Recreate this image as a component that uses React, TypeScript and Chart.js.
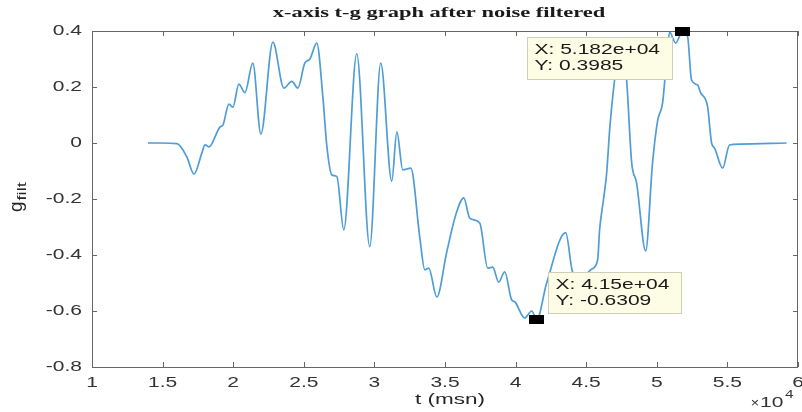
import React, { useEffect, useRef } from "react";
import { Chart, registerables } from "chart.js";

Chart.register(...registerables);

// ---- data ----
const tValues = [
  13960, 14810, 16020, 16720, 17220, 17780, 18000, 18280, 19060, 19270,
  19700, 19980, 20400, 20830, 21390, 21960, 22810, 23590, 24150, 24580,
  25070, 25430, 25920, 26350, 26630, 26990, 27340, 27830, 28750, 29670,
  30450, 31230, 31590, 32010, 32580, 33210, 33570, 33850, 34420, 35120,
  35760, 36330, 36750, 37460, 38030, 38380, 38800, 39230, 39720, 39940,
  40640, 41140, 41500, 42200, 43550, 44040, 44700, 45390, 45810, 45950,
  46230, 46450, 46660, 47010, 47440, 47860, 48220, 48570, 49210, 49700,
  50060, 50410, 50690, 50910, 51330, 51820, 52180, 52460, 52890, 53100,
  53600, 53880, 54090, 54660, 55150, 55860, 59190,
];
const gValues = [
  0, 0, -0.002, -0.05, -0.111, -0.036, -0.007, -0.014, 0.057, 0.064,
  0.139, 0.128, 0.21, 0.18, 0.285, 0.032, 0.36, 0.196, 0.22, 0.196,
  0.285, 0.3, 0.357, 0.165, -0.01, -0.114, -0.12, -0.31, 0.318, -0.37,
  0.285, -0.136, 0.04, -0.096, -0.09, -0.335, -0.453, -0.447, -0.55, -0.39,
  -0.257, -0.196, -0.268, -0.286, -0.447, -0.443, -0.497, -0.46, -0.56, -0.567,
  -0.625, -0.6, -0.6309, -0.5, -0.32, -0.46, -0.48, -0.45, -0.418, -0.31,
  -0.2, -0.107, 0.046, 0.225, 0.37, 0.225, -0.07, -0.143, -0.385, -0.07,
  0.08, 0.143, 0.296, 0.396, 0.357, 0.3985, 0.38, 0.225, 0.207, 0.18,
  0.129, 0.0, -0.018, -0.09, -0.007, -0.004, 0,
];

const tipX = [51820, 41500];
const tipY = [0.3985, -0.6309];
const tipLines = [
  ["X: 5.182e+04", "Y: 0.3985"],
  ["X: 4.15e+04", "Y: -0.6309"],
];

const xMin = 10000;
const xMax = 60000;
const xStep = 5000;
const yMin = -0.8;
const yMax = 0.4;
const yStep = 0.2;

const TITLE = "x-axis t-g graph after noise filtered";
const XLABEL = "t (msn)";

// ---- styling / layout ----
const SANS = '"Liberation Sans", Arial, sans-serif';
const SERIF = '"Liberation Serif", "Times New Roman", serif';
const STRETCH = 1.5;
// box placement relative to each tip point: dx, dy, w, h
const tipBoxes = [
  { dx: -155, dy: 6, w: 145, h: 42 },
  { dx: 11, dy: -48, w: 133, h: 41 },
];

function drawText(
  ctx: CanvasRenderingContext2D,
  text: string,
  x: number,
  y: number,
  align: CanvasTextAlign,
  font: string,
  color: string,
  sx = STRETCH
) {
  ctx.save();
  ctx.translate(x, y);
  ctx.scale(sx, 1);
  ctx.font = font;
  ctx.fillStyle = color;
  ctx.textAlign = align;
  ctx.textBaseline = "middle";
  ctx.fillText(text, 0, 0);
  ctx.restore();
}

const decorPlugin = {
  id: "matlabDecor",
  afterDraw(chart: any) {
    const { ctx, chartArea: a, scales } = chart;
    const xs = scales.x;
    const ys = scales.y;
    ctx.save();

    // axes box
    ctx.strokeStyle = "#666666";
    ctx.lineWidth = 1;
    ctx.strokeRect(a.left + 0.5, a.top + 0.5, a.right - a.left - 1, a.bottom - a.top);

    // inward ticks + labels
    const tickLen = 5;
    ctx.beginPath();
    xs.ticks.forEach((t: any) => {
      const px = Math.round(xs.getPixelForValue(t.value)) + 0.5;
      ctx.moveTo(px, a.bottom);
      ctx.lineTo(px, a.bottom - tickLen);
      ctx.moveTo(px, a.top);
      ctx.lineTo(px, a.top + tickLen);
    });
    ys.ticks.forEach((t: any) => {
      const py = Math.round(ys.getPixelForValue(t.value)) + 0.5;
      ctx.moveTo(a.left, py);
      ctx.lineTo(a.left + tickLen, py);
      ctx.moveTo(a.right, py);
      ctx.lineTo(a.right - tickLen, py);
    });
    ctx.stroke();

    const tickFont = `14px ${SANS}`;
    const tickColor = "#333333";
    xs.ticks.forEach((t: any) => {
      const px = xs.getPixelForValue(t.value);
      const label = String(Number((t.value / 10000).toFixed(1)));
      drawText(ctx, label, px, a.bottom + 16, "center", tickFont, tickColor);
    });
    ys.ticks.forEach((t: any) => {
      const py = ys.getPixelForValue(t.value);
      const label = String(Number(t.value.toFixed(1)));
      drawText(ctx, label, a.left - 10, py, "right", tickFont, tickColor);
    });

    // title
    drawText(ctx, TITLE, (a.left + a.right) / 2 - 6, 13, "center", `bold 15px ${SERIF}`, "#1a1a1a");
    // x label
    drawText(ctx, XLABEL, (a.left + a.right) / 2 + 5, a.bottom + 33, "center", `15px ${SANS}`, "#262626");
    // exponent x10^4
    drawText(ctx, "×", 755, 404, "center", `12px ${SANS}`, "#333333", 1.2);
    drawText(ctx, "10", 760, 403, "left", `15px ${SANS}`, "#333333", 1.4);
    drawText(ctx, "4", 785, 395, "left", `11px ${SANS}`, "#333333", 1.4);

    // y label g_filt (rotated)
    ctx.save();
    ctx.translate(22, 212);
    ctx.rotate(-Math.PI / 2);
    ctx.fillStyle = "#262626";
    ctx.textAlign = "left";
    ctx.textBaseline = "alphabetic";
    ctx.font = `19px ${SANS}`;
    ctx.fillText("g", 0, 0);
    const gw = ctx.measureText("g").width;
    ctx.font = `13px ${SANS}`;
    ctx.save();
    ctx.translate(gw + 1, 4);
    ctx.scale(1.4, 1);
    ctx.fillText("filt", 0, 0);
    ctx.restore();
    ctx.restore();

    // data tips
    tipX.forEach((tx, i) => {
      const px = xs.getPixelForValue(tx);
      const py = ys.getPixelForValue(tipY[i]);
      const b = tipBoxes[i];
      const bx = Math.round(px + b.dx) + 0.5;
      const by = Math.round(py + b.dy) + 0.5;
      ctx.fillStyle = "#fdfde6";
      ctx.fillRect(bx, by, b.w, b.h);
      ctx.strokeStyle = "#cfcfb8";
      ctx.lineWidth = 1;
      ctx.strokeRect(bx, by, b.w, b.h);
      tipLines[i].forEach((line, j) => {
        drawText(ctx, line, bx + 7, by + 13 + j * 16, "left", `14px ${SANS}`, "#1a1a1a");
      });
      ctx.fillStyle = "#000000";
      ctx.fillRect(Math.round(px - 7.5), Math.round(py - 4.5), 15, 9);
    });

    ctx.restore();
  },
};

export default function App() {
  const canvasRef = useRef<HTMLCanvasElement | null>(null);

  useEffect(() => {
    document.body.style.margin = "0";
    const canvas = canvasRef.current;
    if (!canvas) return;
    const points = tValues.map((t, i) => ({ x: t, y: gValues[i] }));
    const chart = new Chart(canvas, {
      type: "line",
      data: {
        datasets: [
          {
            data: points,
            borderColor: "#4f9dd6",
            borderWidth: 1.7,
            pointRadius: 0,
            fill: false,
            cubicInterpolationMode: "monotone",
          },
        ],
      },
      options: {
        animation: false,
        responsive: false,
        events: [],
        layout: { padding: { top: 31, right: 4, bottom: 0, left: 0 } },
        plugins: {
          legend: { display: false },
          tooltip: { enabled: false },
          title: { display: false },
        },
        scales: {
          x: {
            type: "linear",
            min: xMin,
            max: xMax,
            ticks: { stepSize: xStep, display: false },
            grid: { display: false },
            border: { display: false },
            afterFit: (s: any) => {
              s.height = 45;
            },
          },
          y: {
            type: "linear",
            min: yMin,
            max: yMax,
            ticks: { stepSize: yStep, display: false },
            grid: { display: false },
            border: { display: false },
            afterFit: (s: any) => {
              s.width = 92;
            },
          },
        },
      } as any,
      plugins: [decorPlugin],
    });
    return () => chart.destroy();
  }, []);

  return (
    <div style={{ width: 802, height: 412, background: "#ffffff" }}>
      <canvas ref={canvasRef} width={802} height={412} style={{ display: "block" }} />
    </div>
  );
}
